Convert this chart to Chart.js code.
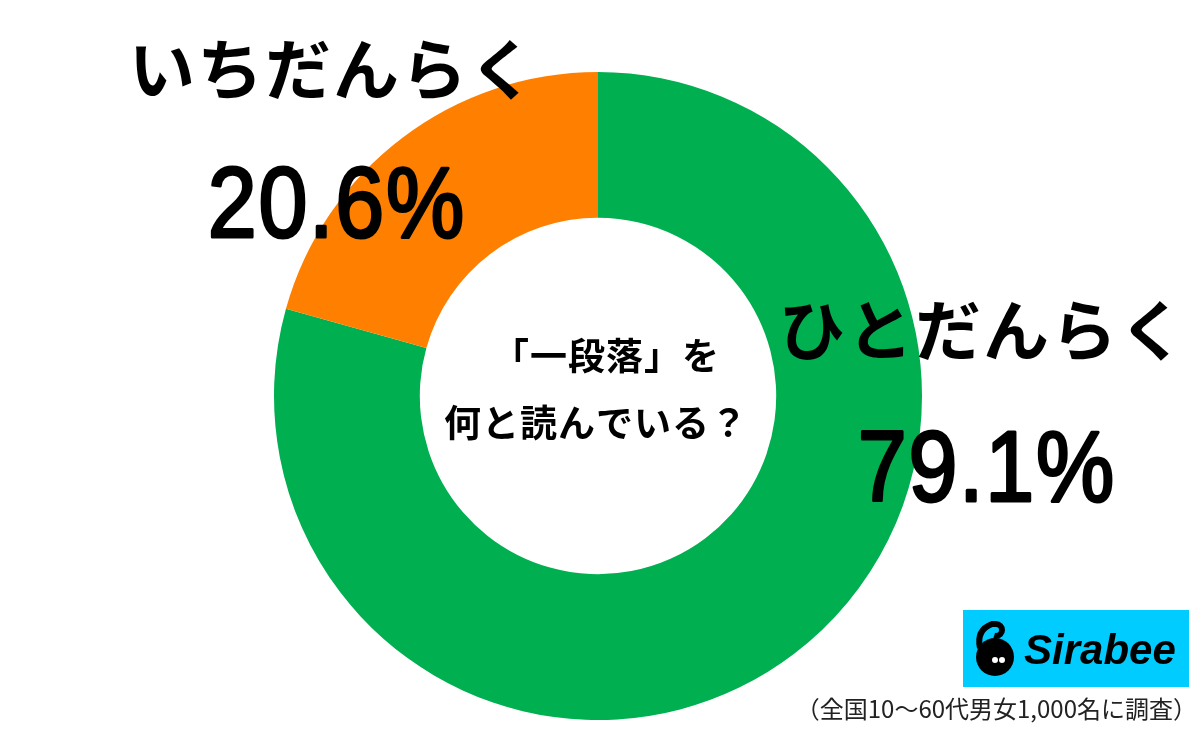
<!DOCTYPE html>
<html>
<head>
<meta charset="utf-8">
<script src="https://cdn.jsdelivr.net/npm/chart.js@4"></script>
<style>
  html, body { margin: 0; padding: 0; background: #fff; }
  #wrap { width: 1200px; height: 736px; position: relative; }
</style>
</head>
<body>
<div id="wrap"><canvas id="donut" width="1200" height="736"></canvas></div>
<script>
// answers, clockwise from 12 o'clock
const answers = ['ひとだんらく', 'いちだんらく'];
const shares = [79.1, 20.6];
const sliceColors = ['#00AF50', '#FF8000'];

const question = ['「一段落」を', '何と読んでいる？'];
const footnote = '（全国10〜60代男女1,000名に調査）';

// where each answer's label sits (name line, percent baseline)
const labelSpots = [
  { x: 986, nameY: 330, pctBase: 501 },
  { x: 336, nameY: 69, pctBase: 237 }
];

const jp = '"Noto Sans CJK JP", "Noto Sans", sans-serif';

const textPlugin = {
  id: 'texts',
  afterDraw(chart) {
    const ctx = chart.ctx;
    ctx.save();
    ctx.fillStyle = '#000';
    ctx.textAlign = 'center';
    ctx.textBaseline = 'middle';

    // answer labels with their shares
    answers.forEach((name, i) => {
      const spot = labelSpots[i];
      ctx.font = 'bold 66px ' + jp;
      ctx.letterSpacing = '2px';
      ctx.fillText(name, spot.x - 3, spot.nameY);

      // percent: plain sans, squeezed and thickened a little
      ctx.save();
      ctx.translate(spot.x, spot.pctBase);
      ctx.scale(0.88, 1);
      ctx.font = '100px "Liberation Sans", Arial, sans-serif';
      ctx.letterSpacing = '2px';
      ctx.textBaseline = 'alphabetic';
      ctx.lineWidth = 3;
      ctx.lineJoin = 'round';
      ctx.strokeStyle = '#000';
      const pct = shares[i].toFixed(1) + '%';
      ctx.strokeText(pct, 1, 0);
      ctx.fillText(pct, 1, 0);
      ctx.restore();
    });

    // question in the hole
    const c = chart.getDatasetMeta(0).data[0];
    ctx.font = 'bold 37px ' + jp;
    ctx.letterSpacing = '1px';
    ctx.fillText(question[0], c.x + 8, 356);
    ctx.fillText(question[1], c.x - 2, 423);

    // footnote
    ctx.font = '24px ' + jp;
    ctx.letterSpacing = '0px';
    ctx.textAlign = 'right';
    ctx.fillStyle = '#222';
    ctx.fillText(footnote, 1197, 709);

    // Sirabee badge
    ctx.fillStyle = '#00CCFF';
    ctx.fillRect(963, 610, 226, 77);
    ctx.fillStyle = '#000';
    ctx.beginPath();
    ctx.arc(995, 657, 19, 0, Math.PI * 2);
    ctx.fill();
    ctx.strokeStyle = '#000';
    ctx.lineWidth = 6;
    ctx.beginPath();
    ctx.moveTo(980, 648);
    ctx.quadraticCurveTo(976, 630, 992, 624);
    ctx.arc(996, 630, 6, -Math.PI / 2, Math.PI * 0.6);
    ctx.stroke();
    ctx.fillStyle = '#fff';
    ctx.beginPath();
    ctx.arc(995, 660, 3, 0, Math.PI * 2);
    ctx.arc(1002, 660, 3, 0, Math.PI * 2);
    ctx.fill();
    ctx.fillStyle = '#000';
    ctx.textAlign = 'left';
    ctx.font = 'italic bold 42px "Liberation Sans", Arial, sans-serif';
    ctx.fillText('Sirabee', 1024, 652);

    ctx.restore();
  }
};

new Chart(document.getElementById('donut'), {
  type: 'doughnut',
  data: {
    labels: answers,
    datasets: [{
      data: shares,
      backgroundColor: sliceColors,
      borderWidth: 0
    }]
  },
  options: {
    responsive: false,
    animation: false,
    cutout: '55%',
    layout: { padding: { top: 72, bottom: 16, left: 274, right: 278 } },
    plugins: { legend: { display: false }, tooltip: { enabled: false } }
  },
  plugins: [textPlugin]
});
</script>
</body>
</html>
